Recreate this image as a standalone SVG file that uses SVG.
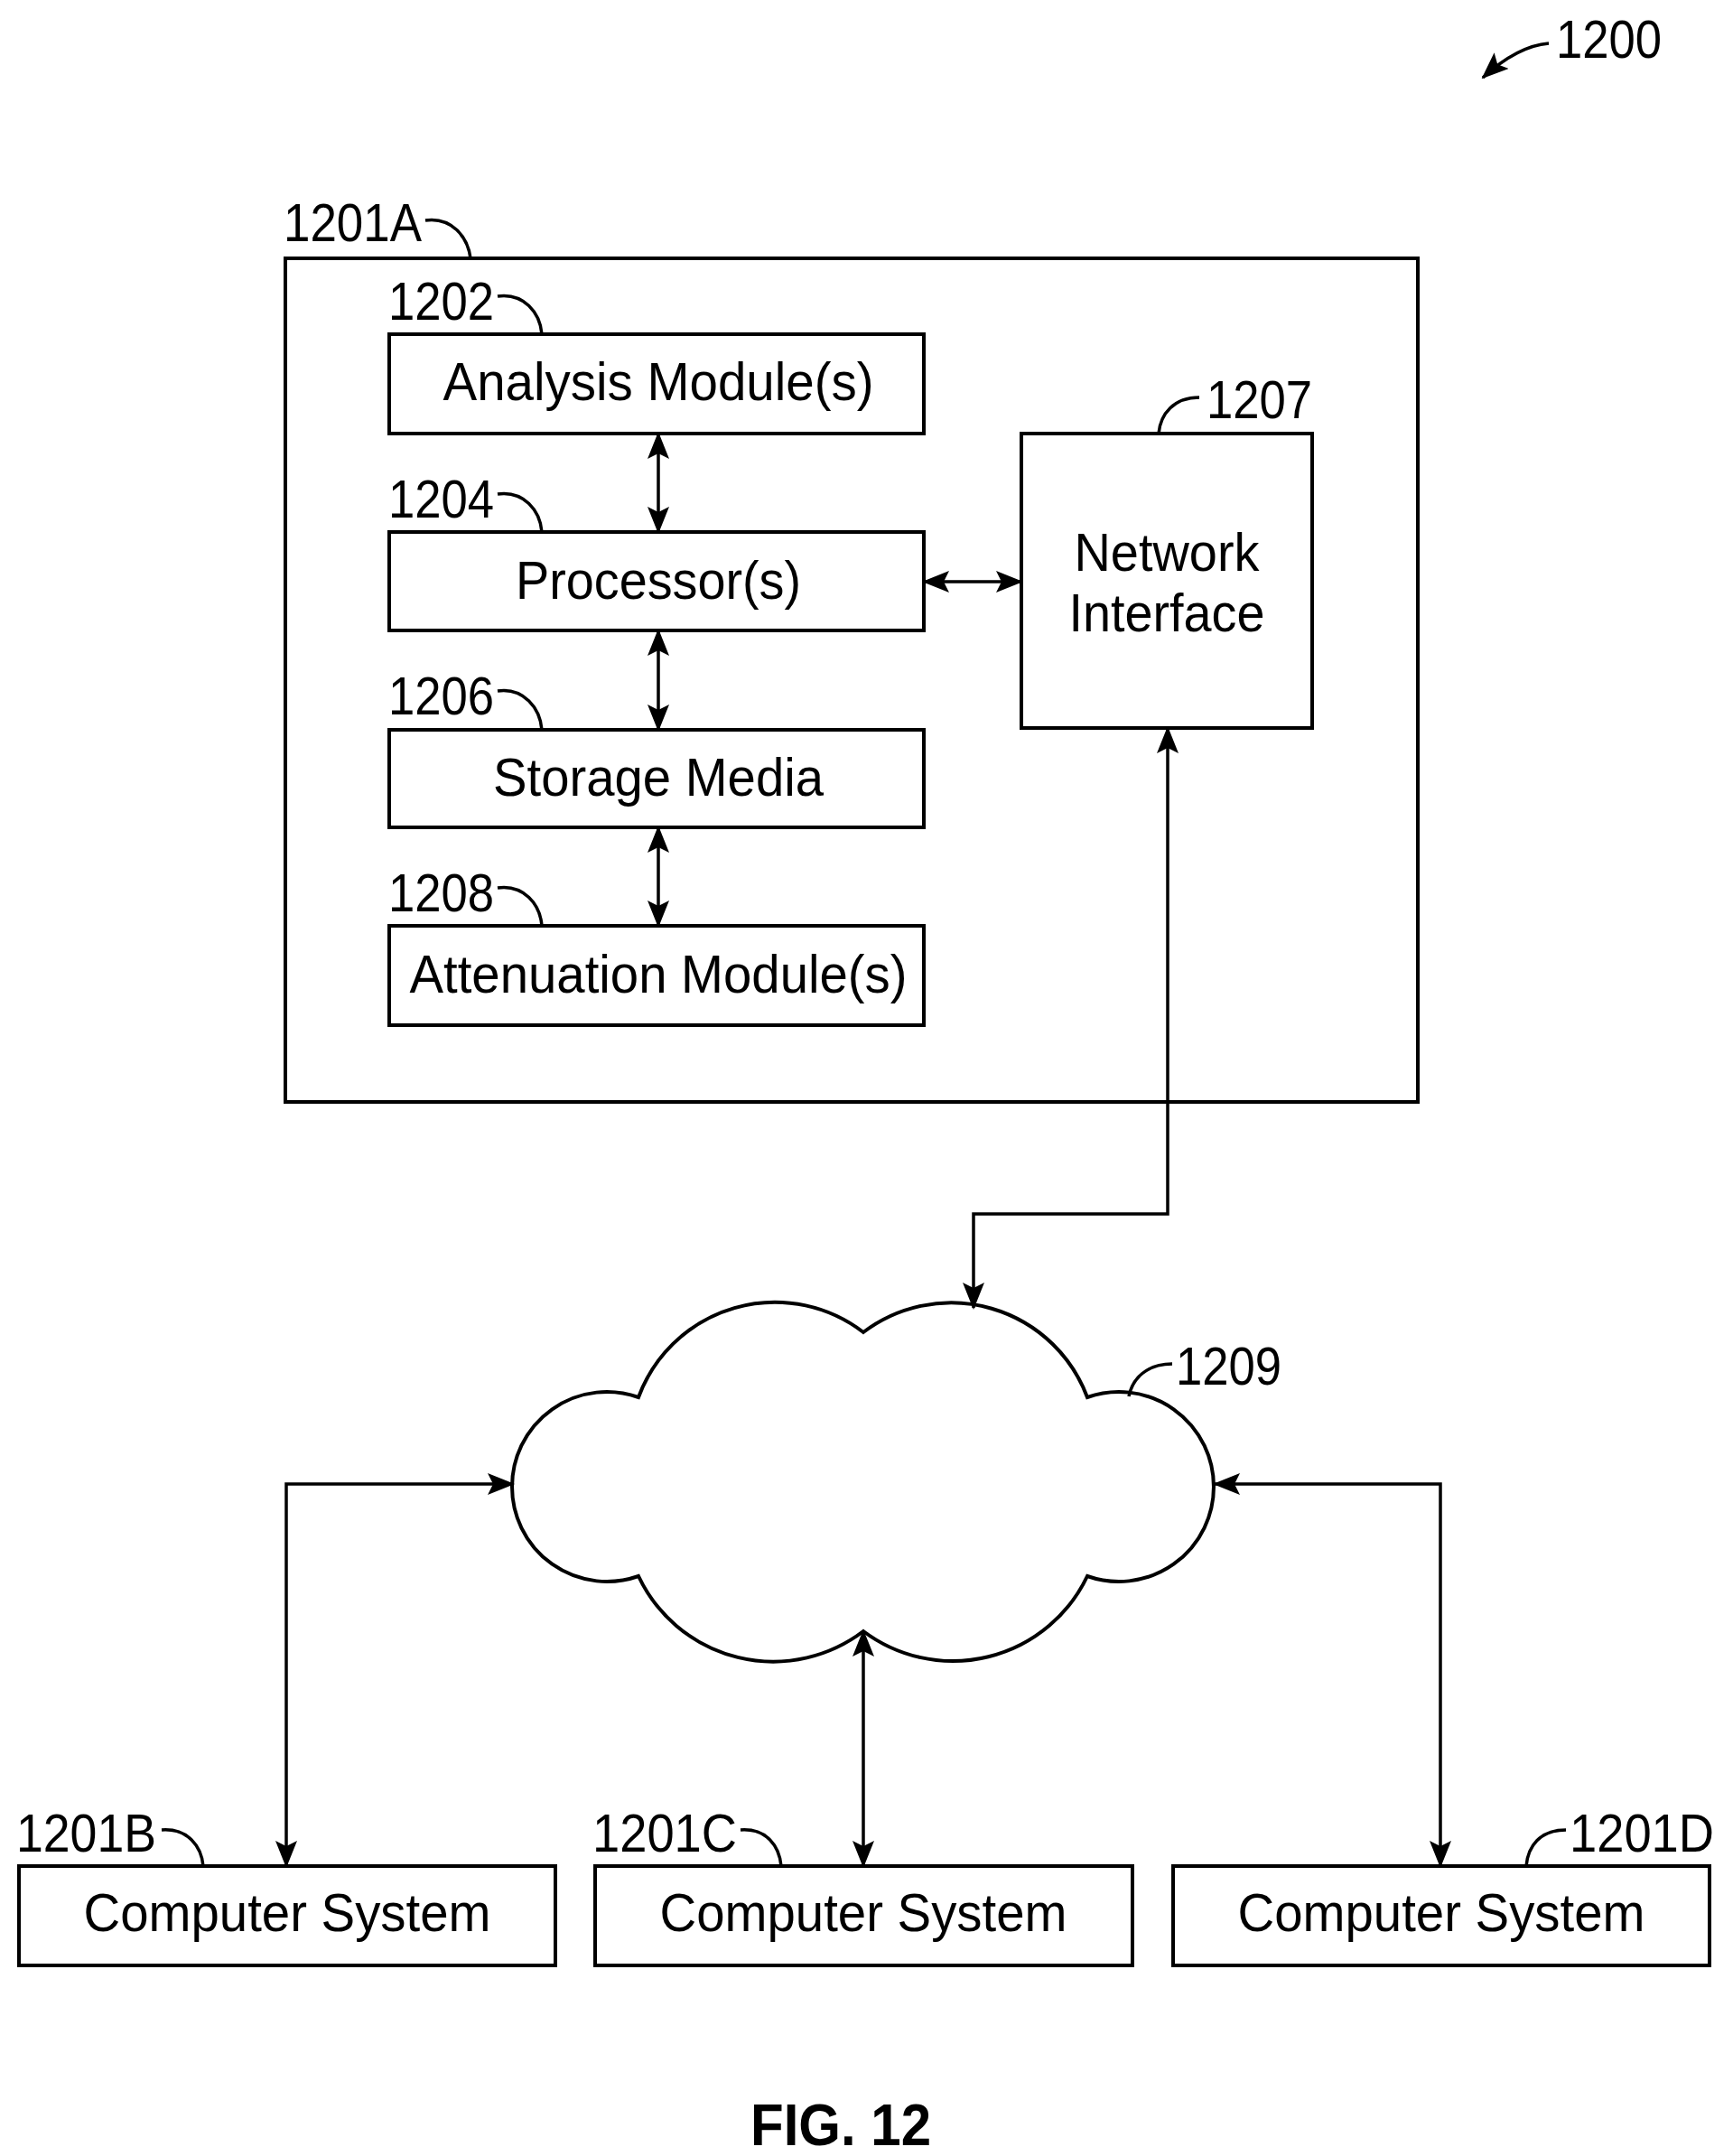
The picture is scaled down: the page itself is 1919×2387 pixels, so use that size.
<svg xmlns="http://www.w3.org/2000/svg" width="1919" height="2387" viewBox="0 0 1919 2387">
<style>
.b{fill:#fff;stroke:#000;stroke-width:4}
.t{font-family:"Liberation Sans",Arial,sans-serif;font-size:60px;fill:#000}
.c{text-anchor:middle}
.l{fill:none;stroke:#000;stroke-width:3.5}
.w{fill:none;stroke:#000;stroke-width:4}
</style>
<defs>
<marker id="a" markerUnits="userSpaceOnUse" markerWidth="30" markerHeight="24" refX="28" refY="12" orient="auto-start-reverse"><path d="M0,0 L30,12 L0,24 L6,12 Z" fill="#000"/></marker>
</defs>
<rect width="1919" height="2387" fill="#fff"/>
<g id="fig1200"><text class="t" x="1723" y="64" textLength="117" lengthAdjust="spacingAndGlyphs">1200</text><path class="l" d="M1715,48 C1690,50 1665,65 1642,86" marker-end="url(#a)"/></g>
<g id="n1201A"><rect class="b" x="316" y="286" width="1254" height="934"/><text class="t" x="314" y="267" textLength="153" lengthAdjust="spacingAndGlyphs">1201A</text><path class="l" d="M471,244 C500,240 518,262 521,286"/></g>
<g id="n1202"><rect class="b" x="431" y="370" width="592" height="110"/><text class="t c" x="729" y="443" textLength="477" lengthAdjust="spacingAndGlyphs">Analysis Module(s)</text><text class="t" x="430" y="354" textLength="117" lengthAdjust="spacingAndGlyphs">1202</text><path class="l" d="M551,328 C580,324 598,346 600,370"/></g>
<g id="n1204"><rect class="b" x="431" y="589" width="592" height="109"/><text class="t c" x="729" y="663" textLength="316" lengthAdjust="spacingAndGlyphs">Processor(s)</text><text class="t" x="430" y="573" textLength="117" lengthAdjust="spacingAndGlyphs">1204</text><path class="l" d="M551,547 C580,543 598,565 600,589"/></g>
<g id="n1206"><rect class="b" x="431" y="808" width="592" height="108"/><text class="t c" x="729" y="881" textLength="366" lengthAdjust="spacingAndGlyphs">Storage Media</text><text class="t" x="430" y="791" textLength="117" lengthAdjust="spacingAndGlyphs">1206</text><path class="l" d="M551,765 C580,761 598,784 600,808"/></g>
<g id="n1208"><rect class="b" x="431" y="1025" width="592" height="110"/><text class="t c" x="729" y="1099" textLength="551" lengthAdjust="spacingAndGlyphs">Attenuation Module(s)</text><text class="t" x="430" y="1009" textLength="117" lengthAdjust="spacingAndGlyphs">1208</text><path class="l" d="M551,983 C580,979 598,1001 600,1025"/></g>
<g id="n1207"><rect class="b" x="1131" y="480" width="322" height="326"/><text class="t c" x="1292" y="632" textLength="205" lengthAdjust="spacingAndGlyphs">Network</text><text class="t c" x="1292" y="699" textLength="217" lengthAdjust="spacingAndGlyphs">Interface</text><text class="t" x="1336" y="463" textLength="117" lengthAdjust="spacingAndGlyphs">1207</text><path class="l" d="M1328,440 C1300,440 1285,458 1283,480"/></g>
<g id="n1209"><path class="w" d="M707,1547 A161,161 0 0 1 956,1475 A161,161 0 0 1 1204,1547 A105,105 0 1 1 1204,1745 A165,165 0 0 1 956,1806 A165,165 0 0 1 707,1745 A105,105 0 1 1 707,1547 Z" fill="#fff"/><text class="t" x="1302" y="1533" textLength="117" lengthAdjust="spacingAndGlyphs">1209</text><path class="l" d="M1298,1510 C1270,1510 1254,1526 1250,1546"/></g>
<g id="n1201B"><rect class="b" x="21" y="2066" width="594" height="110"/><text class="t c" x="318" y="2138" textLength="451" lengthAdjust="spacingAndGlyphs">Computer System</text><text class="t" x="18" y="2050" textLength="155" lengthAdjust="spacingAndGlyphs">1201B</text><path class="l" d="M179,2026 C208,2024 223,2044 225,2066"/></g>
<g id="n1201C"><rect class="b" x="659" y="2066" width="595" height="110"/><text class="t c" x="956" y="2138" textLength="451" lengthAdjust="spacingAndGlyphs">Computer System</text><text class="t" x="656" y="2050" textLength="160" lengthAdjust="spacingAndGlyphs">1201C</text><path class="l" d="M820,2026 C849,2024 863,2044 865,2066"/></g>
<g id="n1201D"><rect class="b" x="1299" y="2066" width="594" height="110"/><text class="t c" x="1596" y="2138" textLength="451" lengthAdjust="spacingAndGlyphs">Computer System</text><text class="t" x="1738" y="2050" textLength="160" lengthAdjust="spacingAndGlyphs">1201D</text><path class="l" d="M1734,2026 C1705,2026 1692,2044 1690,2066"/></g>
<g id="connectors">
<path class="l" d="M729,480 V589" marker-start="url(#a)" marker-end="url(#a)"/>
<path class="l" d="M729,698 V808" marker-start="url(#a)" marker-end="url(#a)"/>
<path class="l" d="M729,916 V1025" marker-start="url(#a)" marker-end="url(#a)"/>
<path class="l" d="M1023,644 H1131" marker-start="url(#a)" marker-end="url(#a)"/>
<path class="l" d="M1293,806 V1344 H1078 V1448" marker-start="url(#a)" marker-end="url(#a)"/>
<path class="l" d="M568,1643 H317 V2066" marker-start="url(#a)" marker-end="url(#a)"/>
<path class="l" d="M1345,1643 H1595 V2066" marker-start="url(#a)" marker-end="url(#a)"/>
<path class="l" d="M956,1806 V2066" marker-start="url(#a)" marker-end="url(#a)"/>
</g>
<text x="931" y="2375" font-family="Liberation Sans,Arial,sans-serif" font-weight="bold" font-size="64" text-anchor="middle" textLength="200" lengthAdjust="spacingAndGlyphs">FIG. 12</text>
</svg>
